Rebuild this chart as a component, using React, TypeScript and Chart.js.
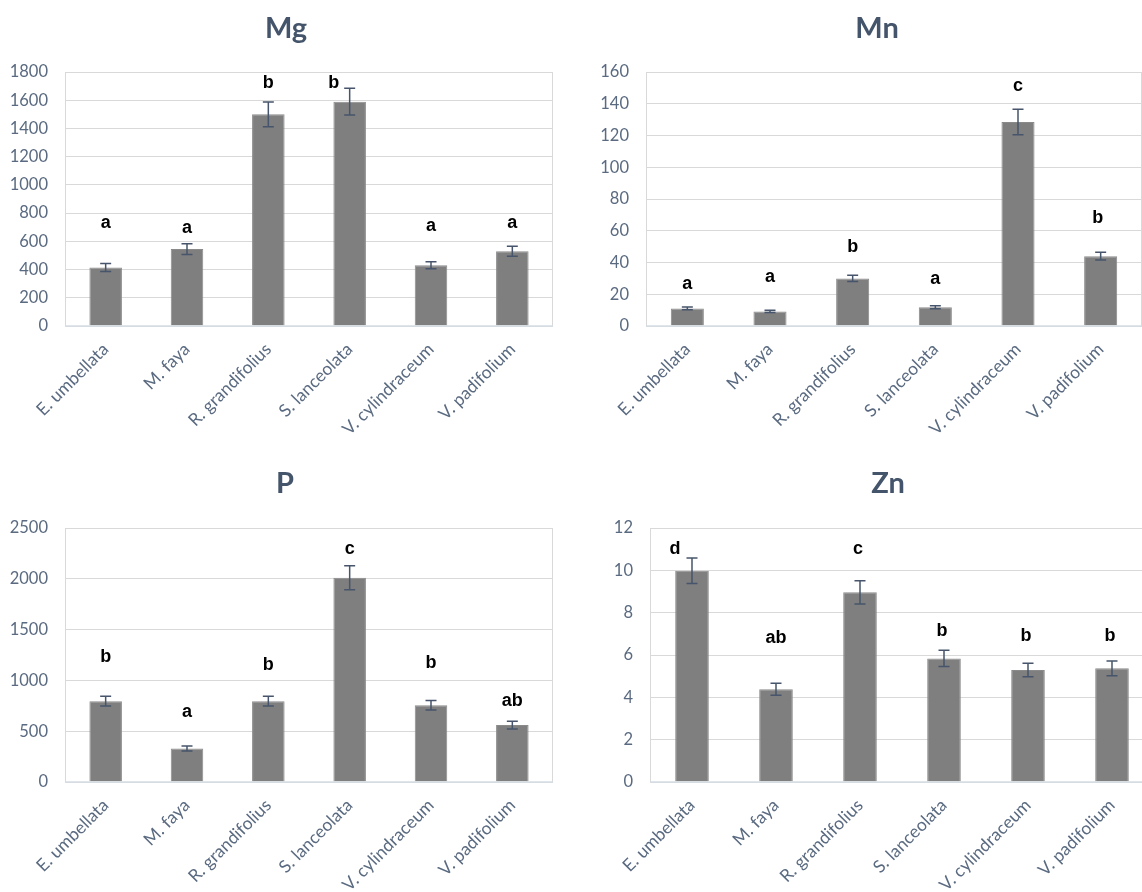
import React, { useEffect, useRef } from "react";
import { Chart, registerables } from "chart.js";

Chart.register(...registerables);

const categories = [
  "E. umbellata",
  "M. faya",
  "R. grandifolius",
  "S. lanceolata",
  "V. cylindraceum",
  "V. padifolium",
];

const mgValues = [415, 545, 1500, 1590, 430, 530];
const mgErrors = [28, 38, 88, 95, 25, 35];
const mgLetters = ["a", "a", "b", "b", "a", "a"];
const mgLetterY = [727, 694, 1722, 1722, 708, 727];

const mnValues = [11.1, 9.2, 30, 11.8, 128.5, 44];
const mnErrors = [0.8, 0.7, 2, 1, 8, 2.5];
const mnLetters = ["a", "a", "b", "a", "c", "b"];
const mnLetterY = [26.5, 30.8, 50, 29.5, 151, 68];

const pValues = [795, 330, 795, 2010, 755, 560];
const pErrors = [48, 25, 48, 118, 47, 38];
const pLetters = ["b", "a", "b", "c", "b", "ab"];
const pLetterY = [1230, 690, 1150, 2293, 1172, 800];

const znValues = [9.98, 4.38, 8.96, 5.84, 5.29, 5.37];
const znErrors = [0.6, 0.28, 0.55, 0.38, 0.32, 0.35];
const znLetters = ["d", "ab", "c", "b", "b", "b"];
const znLetterY = [11.0, 6.8, 11.0, 7.13, 6.9, 6.9];

const yMaxMg = 1800, yStepMg = 200;
const yMaxMn = 160, yStepMn = 20;
const yMaxP = 2500, yStepP = 500;
const yMaxZn = 12, yStepZn = 2;

type Spec = {
  title: string;
  values: number[];
  errors: number[];
  letters: string[];
  letterY: number[];
  letterDx: number[];
  yMax: number;
  yStep: number;
  left: number;
  top: number;
  w: number;
  h: number;
  yw: number;
  plotTop: number;
  rightPad: number;
  xh: number;
  titleX: number;
  titleY: number;
};

const TITLE_COLOR = "#44546a";
const TICK_COLOR = "#5a6a80";
const GRID_COLOR = "#d9d9d9";
const AXIS_COLOR = "#d6dce6";
const BAR_COLOR = "#7f7f7f";
const ERR_COLOR = "#46556b";
const FONT = "Lato, 'Open Sans', sans-serif";

function Panel({ spec }: { spec: Spec }) {
  const ref = useRef<HTMLCanvasElement>(null);
  useEffect(() => {
    const s = spec;
    const overlay = {
      id: "overlay_" + s.title,
      beforeDatasetsDraw(chart: any) {
        const { ctx, chartArea } = chart;
        ctx.save();
        ctx.strokeStyle = GRID_COLOR;
        ctx.lineWidth = 1;
        ctx.beginPath();
        ctx.moveTo(Math.round(chartArea.left) + 0.5, Math.round(chartArea.bottom));
        ctx.lineTo(Math.round(chartArea.left) + 0.5, Math.round(chartArea.top) + 0.5);
        ctx.lineTo(Math.round(chartArea.right) - 0.5, Math.round(chartArea.top) + 0.5);
        ctx.lineTo(Math.round(chartArea.right) - 0.5, Math.round(chartArea.bottom));
        ctx.stroke();
        ctx.restore();
      },
      afterDatasetsDraw(chart: any) {
        const { ctx, chartArea } = chart;
        const xs = chart.scales.x;
        const ys = chart.scales.y;
        ctx.save();
        ctx.strokeStyle = AXIS_COLOR;
        ctx.lineWidth = 1.5;
        ctx.beginPath();
        ctx.moveTo(chartArea.left, chartArea.bottom);
        ctx.lineTo(chartArea.right, chartArea.bottom);
        ctx.stroke();
        ctx.strokeStyle = ERR_COLOR;
        ctx.lineWidth = 1.5;
        s.values.forEach((v, i) => {
          const x = xs.getPixelForValue(i);
          const yt = ys.getPixelForValue(v + s.errors[i]);
          const yb = ys.getPixelForValue(v - s.errors[i]);
          ctx.beginPath();
          ctx.moveTo(x, yt);
          ctx.lineTo(x, yb);
          ctx.moveTo(x - 5.5, yt);
          ctx.lineTo(x + 5.5, yt);
          ctx.moveTo(x - 5.5, yb);
          ctx.lineTo(x + 5.5, yb);
          ctx.stroke();
        });
        ctx.fillStyle = "#000000";
        ctx.font = "bold 18px 'Liberation Sans', Arial, sans-serif";
        ctx.textAlign = "center";
        ctx.textBaseline = "middle";
        s.letters.forEach((t, i) => {
          const x = xs.getPixelForValue(i) + s.letterDx[i];
          const y = ys.getPixelForValue(s.letterY[i]);
          ctx.fillText(t, x, y);
        });
        ctx.restore();
      },
      afterDraw(chart: any) {
        const { ctx } = chart;
        ctx.save();
        ctx.fillStyle = TITLE_COLOR;
        ctx.font = "bold 29px " + FONT;
        ctx.textAlign = "center";
        ctx.textBaseline = "middle";
        ctx.fillText(s.title, s.titleX, s.titleY);
        ctx.restore();
      },
    };

    const chart = new Chart(ref.current as HTMLCanvasElement, {
      type: "bar",
      data: {
        labels: categories,
        datasets: [
          {
            data: s.values,
            backgroundColor: BAR_COLOR,
            borderColor: "#8a8a8a",
            borderWidth: 1,
            categoryPercentage: 1,
            barPercentage: 0.4,
          },
        ],
      },
      options: {
        responsive: false,
        animation: false,
        devicePixelRatio: 1,
        layout: { padding: { left: 0, top: s.plotTop, right: s.rightPad, bottom: 0 } },
        plugins: {
          legend: { display: false },
          title: { display: false },
          tooltip: { enabled: false },
        },
        scales: {
          x: {
            grid: { display: false, drawTicks: false },
            border: { display: false },
            ticks: {
              autoSkip: false,
              minRotation: 45,
              maxRotation: 45,
              padding: 13,
              color: TICK_COLOR,
              font: { family: FONT, size: 17.5 },
            },
            afterFit(sc: any) {
              sc.height = s.xh;
              sc.paddingLeft = 0;
              sc.paddingRight = 0;
            },
          },
          y: {
            min: 0,
            max: s.yMax,
            grid: { color: GRID_COLOR, drawTicks: false, lineWidth: 1 },
            border: { display: false },
            ticks: {
              stepSize: s.yStep,
              padding: 17,
              color: TICK_COLOR,
              font: { family: FONT, size: 16.5 },
              callback: (v: any) => String(v),
            },
            afterFit(sc: any) {
              sc.width = s.yw;
              sc.paddingTop = 0;
              sc.paddingBottom = 0;
            },
          },
        },
      },
      plugins: [overlay],
    } as any);
    return () => chart.destroy();
  }, [spec]);
  return (
    <canvas
      ref={ref}
      width={spec.w}
      height={spec.h}
      style={{
        position: "absolute",
        left: spec.left,
        top: spec.top,
        width: spec.w,
        height: spec.h,
      }}
    />
  );
}

const specs: Spec[] = [
  {
    title: "Mg", values: mgValues, errors: mgErrors, letters: mgLetters, letterY: mgLetterY,
    letterDx: [0, 0, 0, -16, 0, 0], yMax: yMaxMg, yStep: yStepMg,
    left: 0, top: 0, w: 570, h: 450, yw: 65, plotTop: 72, rightPad: 17, xh: 124,
    titleX: 286, titleY: 29,
  },
  {
    title: "Mn", values: mnValues, errors: mnErrors, letters: mnLetters, letterY: mnLetterY,
    letterDx: [0, 0, 0, 0, 0, -3], yMax: yMaxMn, yStep: yStepMn,
    left: 570, top: 0, w: 612, h: 450, yw: 76, plotTop: 72, rightPad: 40, xh: 124,
    titleX: 307, titleY: 29,
  },
  {
    title: "P", values: pValues, errors: pErrors, letters: pLetters, letterY: pLetterY,
    letterDx: [0, 0, 0, 0, 0, 0], yMax: yMaxP, yStep: yStepP,
    left: 0, top: 455, w: 570, h: 437, yw: 65, plotTop: 73, rightPad: 17, xh: 110,
    titleX: 285, titleY: 29,
  },
  {
    title: "Zn", values: znValues, errors: znErrors, letters: znLetters, letterY: znLetterY,
    letterDx: [-17, 0, -2, -2, -2, -2], yMax: yMaxZn, yStep: yStepZn,
    left: 570, top: 455, w: 636, h: 437, yw: 80, plotTop: 73, rightPad: 52, xh: 110,
    titleX: 318, titleY: 29,
  },
];

export default function App() {
  return (
    <div
      style={{
        position: "fixed",
        left: 0,
        top: 0,
        width: 1142,
        height: 892,
        overflow: "hidden",
        background: "#ffffff",
      }}
    >
      {specs.map((sp) => (
        <Panel key={sp.title} spec={sp} />
      ))}
    </div>
  );
}
